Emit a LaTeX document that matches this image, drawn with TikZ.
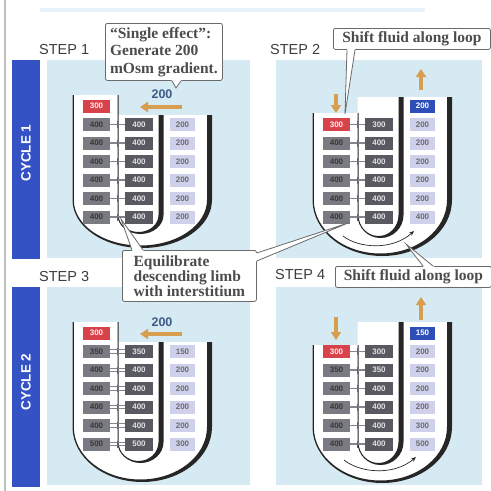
\documentclass[tikz,border=0pt]{standalone}
\usepackage{fontspec}
\setmainfont{Liberation Serif}
\setsansfont{Liberation Sans}
\usetikzlibrary{arrows.meta,calc}
\definecolor{panel}{HTML}{D5EAF3}
\definecolor{cyc}{HTML}{3452C4}
\definecolor{wallc}{HTML}{262626}
\definecolor{dlc}{HTML}{7A7A82}
\definecolor{midc}{HTML}{595961}
\definecolor{ascc}{HTML}{CFD1EC}
\definecolor{redc}{HTML}{D8434B}
\definecolor{bluc}{HTML}{2F4FB8}
\definecolor{orng}{HTML}{D69E4E}
\definecolor{lbl}{HTML}{3F5A86}
\definecolor{calloutc}{HTML}{6A6A6A}
\definecolor{ctext}{HTML}{4C4C4C}
\definecolor{steptext}{HTML}{3D3D3D}
\definecolor{conngray}{HTML}{85858C}

\newcommand{\tubeU}[4]{%
  \pgfmathsetmacro\tOb{#3-200}%
  \pgfmathsetmacro\tOi{#3-202.5}%
  \pgfmathsetmacro\tIb{#4-215}%
  \pgfmathsetmacro\tIi{#4-217}%
  \fill[white] (72.5,#1) -- (72.5,200) arc[start angle=180,end angle=0,x radius=69.75,y radius=\tOb] -- (212,#2) -- (117.5,#2) -- (117.5,#1) -- cycle;
  \fill[wallc] (72.5,#1) -- (72.5,200) arc[start angle=180,end angle=0,x radius=69.75,y radius=\tOb] -- (212,#2) -- (207,#2) -- (207,200) arc[start angle=0,end angle=180,x radius=66.6,y radius=\tOi] -- (73.8,#1) -- cycle;
  \fill[wallc] (117.5,#1) -- (117.5,215) arc[start angle=180,end angle=0,x radius=23,y radius=\tIb] -- (163.5,#2) -- (158.5,#2) -- (158.5,215) arc[start angle=0,end angle=180,x radius=20,y radius=\tIi] -- (118.5,#1) -- cycle;
}
\newcommand{\calltail}[3]{%
  \fill[white] ($(#1)!-1.5pt!(#2)$) -- (#2) -- ($(#3)!-1.5pt!(#2)$) -- cycle;
  \draw[tailline] (#1) -- (#2) -- (#3);
}

\begin{document}
\begin{tikzpicture}[x=1pt,y=-1pt,
  numbox/.style={rectangle, inner sep=0pt, minimum height=13pt, font=\sffamily\bfseries\fontsize{8}{9}\selectfont},
  dl/.style={numbox, fill=dlc, text=black!78, minimum width=27pt},
  md/.style={numbox, fill=midc, text=white!88!black, minimum width=28pt},
  as/.style={numbox, fill=ascc, text=black!58, minimum width=25pt},
  rd/.style={numbox, fill=redc, text=red!8, minimum width=27pt},
  bl/.style={numbox, fill=bluc, text=white, minimum width=25pt},
  conn/.style={draw=conngray, line width=1.3pt},
  tick/.style={draw=black!60, line width=1.8pt},
  oarr/.style={draw=orng, line width=3.5pt, -{Triangle[width=10pt,length=8pt]}},
  loopar/.style={draw=black!85, line width=0.7pt, -{Stealth[length=5pt,width=4pt]}},
  g200/.style={font=\sffamily\bfseries\fontsize{12.5}{14}\selectfont, text=lbl, inner sep=0pt},
  steplbl/.style={font=\sffamily\fontsize{14.5}{16}\selectfont, text=steptext, inner sep=0pt, anchor=west},
  cyclbl/.style={font=\sffamily\bfseries\fontsize{13.5}{15}\selectfont, text=white, rotate=90, inner sep=0pt},
  callout/.style={draw=calloutc, line width=0.8pt, fill=white, rounded corners=2pt, text=ctext, align=left, inner xsep=4pt, inner ysep=2pt, anchor=north west},
  tailline/.style={draw=calloutc, line width=0.8pt}
]
\useasboundingbox (0,0) rectangle (491,491);
\fill[white] (0,0) rectangle (491,491);
\draw[black!25, line width=1.5pt] (5,0) -- (5,491);
\fill[panel!60] (40,8) rectangle (425,12);

% cycle bars
\fill[cyc] (12,60) rectangle (40,259);
\fill[cyc] (12,287) rectangle (40,487);
\node[cyclbl] (cy1) at (26,153) {CYCLE 1};
\node[cyclbl] (cy2) at (26,382) {CYCLE 2};

% panels
\fill[panel] (47,60) rectangle (250,258);
\fill[panel] (276,60) rectangle (482,258);
\fill[panel] (47,287) rectangle (250,485);
\fill[panel] (276,287) rectangle (482,485);

% step labels
\node[steplbl] (st1) at (39,50) {STEP 1};
\node[steplbl] (st2) at (270,50) {STEP 2};
\node[steplbl] (st3) at (39,277) {STEP 3};
\node[steplbl] (st4) at (275,275) {STEP 4};

% ---------- STEP 1 ----------
\begin{scope}
  \tubeU{95}{115}{248}{234}
  \node[rd] (aL0) at (96.5,106) {300};
  \foreach \k/\va/\vb/\vc in {1/400/400/200,2/400/400/200,3/400/400/200,4/400/400/200,5/400/400/200,6/400/400/200}{
    \pgfmathsetmacro\yy{106+18.5*\k}
    \node[dl] (aL\k) at (96.5,\yy) {\va};
    \node[md] (aM\k) at (139,\yy) {\vb};
    \node[as] (aR\k) at (182.5,\yy) {\vc};
    \draw[conn] (aL\k.east) -- (aM\k.west);
    \draw[tick] ($(aL\k.east)!0.5!(aM\k.west)$) +(0,-3.5) -- +(0,3.5);
  }
  \coordinate (a1s) at (182,107);
  \coordinate (a1e) at (140,107);
  \draw[oarr] (a1s) -- (a1e);
  \node[g200] (a200) at (162,94) {200};
\end{scope}

% ---------- STEP 2 ----------
\begin{scope}[shift={(240,0)}]
  \tubeU{113}{97}{256}{238}
  \node[bl] (bR0) at (182.5,106) {200};
  \node[rd] (bL1) at (96.5,124.5) {300};
  \node[md] (bM1) at (139,124.5) {300};
  \node[as] (bR1) at (182.5,124.5) {200};
  \foreach \k/\va/\vb/\vc in {2/400/400/200,3/400/400/200,4/400/400/200,5/400/400/200,6/400/400/400}{
    \pgfmathsetmacro\yy{106+18.5*\k}
    \node[dl] (bL\k) at (96.5,\yy) {\va};
    \node[md] (bM\k) at (139,\yy) {\vb};
    \node[as] (bR\k) at (182.5,\yy) {\vc};
  }
  \foreach \k in {1,...,6}{
    \draw[conn] (bL\k.east) -- (bM\k.west);
    \draw[tick] ($(bL\k.east)!0.5!(bM\k.west)$) +(0,-3.5) -- +(0,3.5);
  }
  \coordinate (b1s) at (96,94);
  \coordinate (b1e) at (96,113);
  \draw[oarr] (b1s) -- (b1e);
  \coordinate (b2s) at (181,90);
  \coordinate (b2e) at (181,69);
  \draw[oarr] (b2s) -- (b2e);
  \coordinate (bls) at (103,236);
  \coordinate (ble) at (174,231);
  \draw[loopar] (bls) .. controls (118,248) and (152,251) .. (ble);
\end{scope}

% ---------- STEP 3 ----------
\begin{scope}[shift={(0,227)}]
  \tubeU{95}{115}{255}{236}
  \node[rd] (cL0) at (96.5,106) {300};
  \foreach \k/\va/\vb/\vc in {1/350/350/150,2/400/400/200,3/400/400/200,4/400/400/200,5/400/400/200,6/500/500/300}{
    \pgfmathsetmacro\yy{106+18.5*\k}
    \node[dl] (cL\k) at (96.5,\yy) {\va};
    \node[md] (cM\k) at (139,\yy) {\vb};
    \node[as] (cR\k) at (182.5,\yy) {\vc};
    \draw[conn, line width=1pt] ([yshift=1.6pt]cL\k.east) -- ([yshift=1.6pt]cM\k.west);
    \draw[conn, line width=1pt] ([yshift=-1.6pt]cL\k.east) -- ([yshift=-1.6pt]cM\k.west);
    \draw[tick] ($(cL\k.east)!0.5!(cM\k.west)$) +(0,-3.5) -- +(0,3.5);
  }
  \coordinate (c1s) at (182,107);
  \coordinate (c1e) at (140,107);
  \draw[oarr] (c1s) -- (c1e);
  \node[g200] (c200) at (162,95) {200};
\end{scope}

% ---------- STEP 4 ----------
\begin{scope}[shift={(240,227)}]
  \tubeU{118}{95}{256}{238}
  \node[bl] (dR0) at (182.5,106) {150};
  \node[rd] (dL1) at (96.5,124.5) {300};
  \node[md] (dM1) at (139,124.5) {300};
  \node[as] (dR1) at (182.5,124.5) {200};
  \foreach \k/\va/\vb/\vc in {2/350/350/200,3/400/400/200,4/400/400/200,5/400/400/300,6/400/400/500}{
    \pgfmathsetmacro\yy{106+18.5*\k}
    \node[dl] (dL\k) at (96.5,\yy) {\va};
    \node[md] (dM\k) at (139,\yy) {\vb};
    \node[as] (dR\k) at (182.5,\yy) {\vc};
  }
  \foreach \k in {1,...,6}{
    \draw[conn] (dL\k.east) -- (dM\k.west);
    \draw[tick] ($(dL\k.east)!0.5!(dM\k.west)$) +(0,-3.5) -- +(0,3.5);
  }
  \coordinate (d1s) at (96,90);
  \coordinate (d1e) at (96,113);
  \draw[oarr] (d1s) -- (d1e);
  \coordinate (d2s) at (181,93);
  \coordinate (d2e) at (181,70);
  \draw[oarr] (d2s) -- (d2e);
  \coordinate (dls) at (104,233);
  \coordinate (dle) at (176,230);
  \draw[loopar] (dls) .. controls (120,246) and (154,249) .. (dle);
\end{scope}

% ---------- callouts ----------
\node[callout, minimum width=117pt, minimum height=57pt, font=\bfseries\fontsize{15.5}{17.5}\selectfont] (ce1) at (105,23) {“Single effect”:\\Generate 200\\mOsm gradient.};
\node[callout, minimum width=157pt, minimum height=21pt, font=\bfseries\fontsize{15.5}{17}\selectfont] (ce2) at (333,28) {Shift fluid along loop};
\node[callout, minimum width=156pt, minimum height=21pt, font=\bfseries\fontsize{15.5}{17}\selectfont] (ce4) at (335,266) {Shift fluid along loop};
\node[callout, minimum width=134pt, minimum height=51pt, font=\bfseries\fontsize{15.5}{15}\selectfont] (ceq) at (122,250) {Equilibrate\\descending limb\\with interstitium};

\coordinate (t1a) at ([xshift=67pt]ce1.south west);
\coordinate (t1b) at ([xshift=76pt]ce1.south west);
\coordinate (t1p) at (176,88);
\calltail{t1a}{t1p}{t1b}

\coordinate (t2a) at ([xshift=14pt]ce2.south west);
\coordinate (t2b) at ([xshift=22pt]ce2.south west);
\coordinate (t2p) at (345,114);
\calltail{t2a}{t2p}{t2b}

\coordinate (t4a) at ([xshift=88pt]ce4.north west);
\coordinate (t4b) at ([xshift=98pt]ce4.north west);
\coordinate (t4p) at (406,244);
\calltail{t4a}{t4p}{t4b}

\coordinate (tqa) at ([xshift=10pt]ceq.north west);
\coordinate (tqb) at ([xshift=21pt]ceq.north west);
\coordinate (tqp) at (121,219);
\calltail{tqa}{tqp}{tqb}

\coordinate (tqc) at ([yshift=-3pt]ceq.north east);
\coordinate (tqd) at ([yshift=-11pt]ceq.north east);
\coordinate (tqq) at (348,223);
\calltail{tqc}{tqq}{tqd}
\end{tikzpicture}
\end{document}
